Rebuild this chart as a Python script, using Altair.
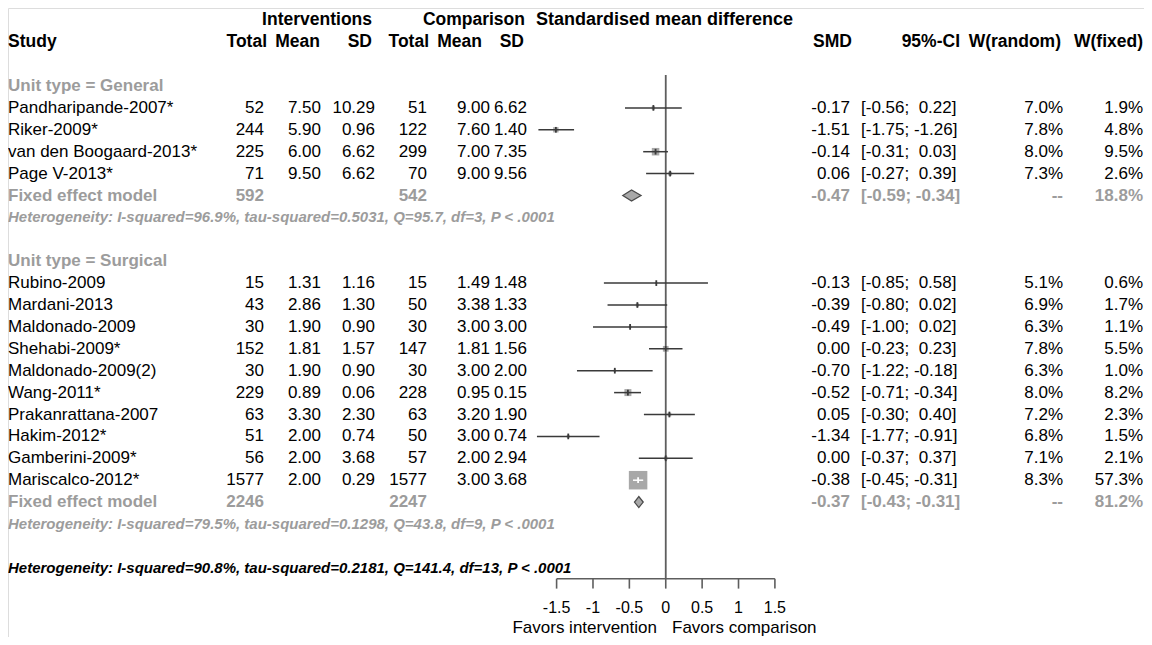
import altair as alt
import pandas as pd

# ---------------- data ----------------
studies = ["Pandharipande-2007*", "Riker-2009*", "van den Boogaard-2013*", "Page V-2013*",
           "Rubino-2009", "Mardani-2013", "Maldonado-2009", "Shehabi-2009*", "Maldonado-2009(2)",
           "Wang-2011*", "Prakanrattana-2007", "Hakim-2012*", "Gamberini-2009*", "Mariscalco-2012*"]
unit_type = ["General"] * 4 + ["Surgical"] * 10
int_total = [52, 244, 225, 71, 15, 43, 30, 152, 30, 229, 63, 51, 56, 1577]
int_mean = [7.50, 5.90, 6.00, 9.50, 1.31, 2.86, 1.90, 1.81, 1.90, 0.89, 3.30, 2.00, 2.00, 2.00]
int_sd = [10.29, 0.96, 6.62, 6.62, 1.16, 1.30, 0.90, 1.57, 0.90, 0.06, 2.30, 0.74, 3.68, 0.29]
comp_total = [51, 122, 299, 70, 15, 50, 30, 147, 30, 228, 63, 50, 57, 1577]
comp_mean = [9.00, 7.60, 7.00, 9.00, 1.49, 3.38, 3.00, 1.81, 3.00, 0.95, 3.20, 3.00, 2.00, 3.00]
comp_sd = [6.62, 1.40, 7.35, 9.56, 1.48, 1.33, 3.00, 1.56, 2.00, 0.15, 1.90, 0.74, 2.94, 3.68]
smd = [-0.17, -1.51, -0.14, 0.06, -0.13, -0.39, -0.49, 0.00, -0.70, -0.52, 0.05, -1.34, 0.00, -0.38]
ci_low = [-0.56, -1.75, -0.31, -0.27, -0.85, -0.80, -1.00, -0.23, -1.22, -0.71, -0.30, -1.77, -0.37, -0.45]
ci_high = [0.22, -1.26, 0.03, 0.39, 0.58, 0.02, 0.02, 0.23, -0.18, -0.34, 0.40, -0.91, 0.37, -0.31]
w_random = [7.0, 7.8, 8.0, 7.3, 5.1, 6.9, 6.3, 7.8, 6.3, 8.0, 7.2, 6.8, 7.1, 8.3]
w_fixed = [1.9, 4.8, 9.5, 2.6, 0.6, 1.7, 1.1, 5.5, 1.0, 8.2, 2.3, 1.5, 2.1, 57.3]

subgroup_titles = ["Unit type = General", "Unit type = Surgical"]
fe_label = "Fixed effect model"
fe_int_total = [592, 2246]
fe_comp_total = [542, 2247]
fe_smd = [-0.47, -0.37]
fe_low = [-0.59, -0.43]
fe_high = [-0.34, -0.31]
fe_w_fixed = [18.8, 81.2]
het_subgroup = ["Heterogeneity: I-squared=96.9%, tau-squared=0.5031, Q=95.7, df=3, P < .0001",
                "Heterogeneity: I-squared=79.5%, tau-squared=0.1298, Q=43.8, df=9, P < .0001"]
het_overall = "Heterogeneity: I-squared=90.8%, tau-squared=0.2181, Q=141.4, df=13, P < .0001"
tick_values = [-1.5, -1, -0.5, 0, 0.5, 1, 1.5]
tick_labels = ["-1.5", "-1", "-0.5", "0", "0.5", "1", "1.5"]
label_left = "Favors intervention"
label_right = "Favors comparison"

# ---------------- layout (rows and pixel columns) ----------------
study_rows = [1, 2, 3, 4, 9, 10, 11, 12, 13, 14, 15, 16, 17, 18]
subgroup_rows = [0, 8]
fe_rows = [5, 19]
het_rows = [6, 20]
overall_row = 22
M = 8  # page margin
W, H = 1152 - 2 * M, 645 - 2 * M
FONT = "Liberation Sans"
GRAY = "#9c9c9c"
DARK = "#3a3a3a"

YS = alt.Scale(domain=[-3, 25], range=[20.3 - M, 20.3 - M + 28 * 21.9], nice=False, zero=False)
XS = alt.Scale(domain=[-1.5, 1.5], range=[556.6 - M, 774.9 - M], nice=False, zero=False)

col_val = {"it": 264, "im": 321, "isd": 375, "ct": 427, "cm": 490, "csd": 527,
           "smd": 850, "ci": 861, "wr": 1063, "wf": 1143}


def fmt_ci(lo, hi):
    h = f"{hi:.2f}" if hi < 0 else "\u00a0" + f"{hi:.2f}"
    return f"[{lo:.2f}; {h}]"


tab = pd.DataFrame({
    "row": study_rows, "study": studies, "grp": unit_type,
    "it": [str(v) for v in int_total], "im": [f"{v:.2f}" for v in int_mean],
    "isd": [f"{v:.2f}" for v in int_sd], "ct": [str(v) for v in comp_total],
    "cm": [f"{v:.2f}" for v in comp_mean], "csd": [f"{v:.2f}" for v in comp_sd],
    "smd_s": [f"{v:.2f}" for v in smd], "ci": [fmt_ci(a, b) for a, b in zip(ci_low, ci_high)],
    "wr": [f"{v:.1f}%" for v in w_random], "wf": [f"{v:.1f}%" for v in w_fixed],
    "smd": smd, "lo": ci_low, "hi": ci_high, "w": w_fixed,
})
# CI drawn in white when it lies inside its own box (as the R meta package does)
box_max = 18.5
tab["tone"] = ["light" if (h - l) * (774.9 - 556.6) / 3 < box_max * (w / max(w_fixed)) ** 0.5 else "dark"
               for l, h, w in zip(ci_low, ci_high, w_fixed)]
tab["ya"] = tab["row"] - 0.13
tab["yb"] = tab["row"] + 0.13

fe = pd.DataFrame({
    "row": fe_rows, "label": [fe_label] * 2,
    "it": [str(v) for v in fe_int_total], "ct": [str(v) for v in fe_comp_total],
    "smd_s": [f"{v:.2f}" for v in fe_smd], "ci": [fmt_ci(a, b) for a, b in zip(fe_low, fe_high)],
    "wr": ["--", "--"], "wf": [f"{v:.1f}%" for v in fe_w_fixed],
})

diamond_rows = []
for i, r in enumerate(fe_rows):
    for x, d in [(fe_low[i], 0.0), (fe_smd[i], 0.25), (fe_high[i], 0.0)]:
        diamond_rows.append({"g": i, "x": x, "ya": r - d, "yb": r + d})
diamonds = pd.DataFrame(diamond_rows)

sub = pd.DataFrame({"row": subgroup_rows, "t": subgroup_titles})
het = pd.DataFrame({"row": het_rows, "t": het_subgroup})
het_all_df = pd.DataFrame({"row": [overall_row], "t": [het_overall]})

header1 = pd.DataFrame({"row": [-3, -3], "t": ["Interventions", "Comparison"], "x": [372, 525]})
header2 = pd.DataFrame({"row": [-2] * 10,
                        "t": ["Total", "Mean", "SD", "Total", "Mean", "SD", "SMD", "95%-CI", "W(random)", "W(fixed)"],
                        "x": [267, 320, 372, 429, 482, 524, 852, 960, 1061, 1143]})

ticks = pd.DataFrame({"x": tick_values, "lab": tick_labels, "y": 22.5, "y2": 22.95, "row": 23.85})
axis_line = pd.DataFrame({"x": [tick_values[0]], "x2": [tick_values[-1]], "y": [22.5]})
zero_line = pd.DataFrame({"x": [0], "y": [-0.5], "y2": [22.5]})


def Y(f="row"):
    return alt.Y(f"{f}:Q", scale=YS, axis=None)


def X(f):
    return alt.X(f"{f}:Q", scale=XS, axis=None)


def txt(df, field, x, align, color="black", bold=False, italic=False, size=17):
    return alt.Chart(df).mark_text(
        align=align, baseline="middle", font=FONT, fontSize=size,
        fontWeight="bold" if bold else "normal", fontStyle="italic" if italic else "normal",
        color=color,
    ).encode(x=alt.value(x - M), y=Y(), text=alt.Text(f"{field}:N"))


layers = []
# forest part
layers.append(alt.Chart(zero_line).mark_rule(color="#5e5e5e", strokeWidth=1.8).encode(
    x=X("x"), y=Y("y"), y2="y2:Q"))
layers.append(alt.Chart(axis_line).mark_rule(color="#5e5e5e", strokeWidth=1.6).encode(
    x=X("x"), x2="x2:Q", y=Y("y")))
layers.append(alt.Chart(ticks).mark_rule(color="#5e5e5e", strokeWidth=1.6).encode(
    x=X("x"), y=Y("y"), y2="y2:Q"))
layers.append(alt.Chart(tab).mark_square(color="#a8a8a8", opacity=1).encode(
    x=X("smd"), y=Y(),
    size=alt.Size("w:Q", scale=alt.Scale(domain=[0, max(w_fixed)], range=[0, box_max ** 2]), legend=None)))
tone = alt.Color("tone:N", scale=alt.Scale(domain=["dark", "light"], range=[DARK, "#ffffff"]), legend=None)
layers.append(alt.Chart(tab).mark_rule(strokeWidth=1.5).encode(
    x=X("lo"), x2="hi:Q", y=Y(), color=tone))
layers.append(alt.Chart(tab).mark_rule(strokeWidth=1.8).encode(
    x=X("smd"), y=Y("ya"), y2="yb:Q", color=tone))
layers.append(alt.Chart(diamonds).mark_area(fill="#a8a8a8", stroke="#4a4a4a", strokeWidth=1.3,
                                            fillOpacity=1).encode(
    x=X("x"), y=Y("ya"), y2="yb:Q", detail="g:N"))
layers.append(alt.Chart(ticks).mark_text(align="center", baseline="middle", font=FONT,
                                         fontSize=16, color="black").encode(
    x=X("x"), y=Y(), text="lab:N"))
favors = pd.DataFrame({"row": [24.75, 24.75], "t": [label_left, label_right]})
layers.append(txt(favors[favors.t == label_left], "t", 657, "right", size=17))
layers.append(txt(favors[favors.t == label_right], "t", 672, "left", size=17))

# headers
for _, r in header1.iterrows():
    layers.append(txt(header1[header1.t == r.t], "t", r.x, "right", bold=True, size=17.5))
layers.append(txt(pd.DataFrame({"row": [-3], "t": ["Standardised mean difference"]}), "t", 536, "left",
                  bold=True, size=18))
layers.append(txt(pd.DataFrame({"row": [-2], "t": ["Study"]}), "t", 8, "left", bold=True, size=17.5))
for i in range(len(header2)):
    layers.append(txt(header2.iloc[[i]], "t", header2.x.iloc[i], "right", bold=True, size=17.5))

# study rows
layers.append(txt(tab, "study", 8, "left"))
for c in ["it", "im", "isd", "ct", "cm", "csd", "wr", "wf"]:
    layers.append(txt(tab, c, col_val[c], "right"))
layers.append(txt(tab, "smd_s", col_val["smd"], "right"))
layers.append(txt(tab, "ci", col_val["ci"], "left"))

# subgroup titles, fixed-effect rows, heterogeneity
layers.append(txt(sub, "t", 8, "left", color=GRAY, bold=True))
layers.append(txt(fe, "label", 8, "left", color=GRAY, bold=True))
for c in ["it", "ct", "wr", "wf"]:
    layers.append(txt(fe, c, col_val[c], "right", color=GRAY, bold=True))
layers.append(txt(fe, "smd_s", col_val["smd"], "right", color=GRAY, bold=True))
layers.append(txt(fe, "ci", col_val["ci"], "left", color=GRAY, bold=True))
layers.append(txt(het, "t", 8, "left", color=GRAY, bold=True, italic=True, size=15))
layers.append(txt(het_all_df, "t", 8, "left", color="black", bold=True, italic=True, size=15))

chart = alt.layer(*layers).properties(
    width=W, height=H, padding=0, autosize=alt.AutoSizeParams(type="none"),
).configure_view(stroke=None).configure(background="white")

chart.save("out.html", embed_options={"renderer": "svg", "actions": False})
